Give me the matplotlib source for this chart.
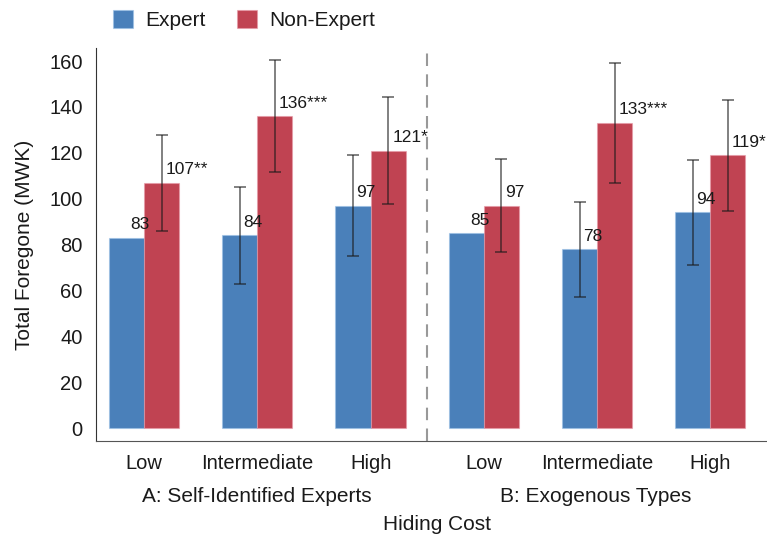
import numpy as np
import matplotlib
matplotlib.use("Agg")
import matplotlib.pyplot as plt

plt.rcParams['font.family'] = ['Liberation Sans', 'DejaVu Sans']

# data
cost_levels = ["Low", "Intermediate", "High", "Low", "Intermediate", "High"]
panels = ["A: Self-Identified Experts", "B: Exogenous Types"]
expert = [83, 84, 97, 85, 78, 94]
non_expert = [107, 136, 121, 97, 133, 119]
expert_err = [np.nan, 21, 22, np.nan, 20.7, 22.7]
non_expert_err = [21, 24.5, 23.4, 20.4, 26, 24.2]
expert_lbl = ["83", "84", "97", "85", "78", "94"]
non_expert_lbl = ["107**", "136***", "121*", "97", "133***", "119*"]

BLUE = "#4a80ba"
RED = "#c04352"
TXT = "#1a1a1a"
FS = 15

fig = plt.figure(figsize=(7.67, 5.40), dpi=100)
ax = fig.add_axes([0.1258, 0.1833, 1 - 0.1258, 0.911 - 0.1833])

x = np.arange(len(cost_levels))
w = 0.31
ax.bar(x - w / 2, expert, w, color=BLUE, edgecolor=(0.6, 0.75, 0.9, 0.6), linewidth=0.8, label="Expert")
ax.bar(x + w / 2, non_expert, w, color=RED, edgecolor=(0.9, 0.6, 0.65, 0.6), linewidth=0.8, label="Non-Expert")

ee = np.array(expert_err, dtype=float)
ok = ~np.isnan(ee)
ax.errorbar((x - w / 2)[ok], np.array(expert)[ok], yerr=ee[ok], fmt="none",
            ecolor=(0.1, 0.1, 0.1, 0.7), elinewidth=1.1, capsize=4, capthick=1.1)
ax.errorbar(x + w / 2, non_expert, yerr=non_expert_err, fmt="none",
            ecolor=(0.1, 0.1, 0.1, 0.7), elinewidth=1.1, capsize=4, capthick=1.1)

for xi, v, s in zip(x - w / 2, expert, expert_lbl):
    ax.annotate(s, (xi, v), xytext=(2.5, 4), textcoords="offset points",
                ha="left", va="bottom", fontsize=12.5, color=TXT)
for xi, v, s in zip(x + w / 2, non_expert, non_expert_lbl):
    ax.annotate(s, (xi, v), xytext=(3, 4), textcoords="offset points",
                ha="left", va="bottom", fontsize=12.5, color=TXT)

ax.axvline(2.5, color="#999999", linestyle=(0, (6, 4)), linewidth=1.5)

ax.set_xlim(-0.42, 5.5)
ax.set_ylim(-5.67, 165.7)
ax.set_yticks(range(0, 161, 20))
ax.set_xticks(x)
ax.set_xticklabels(cost_levels)
ax.tick_params(axis="both", length=0, labelsize=FS - 0.5, colors=TXT)
ax.tick_params(axis="x", pad=9)
ax.tick_params(axis="y", pad=10)
for s in ["top", "right"]:
    ax.spines[s].set_visible(False)
ax.spines["left"].set_color("#333333")
ax.spines["bottom"].set_color("#555555")
ax.set_ylabel("Total Foregone (MWK)", fontsize=FS, color=TXT, labelpad=11)

fig.text(257 / 767, 1 - 497 / 540, panels[0], ha="center", va="center", fontsize=FS, color=TXT)
fig.text(596 / 767, 1 - 497 / 540, panels[1], ha="center", va="center", fontsize=FS, color=TXT)
fig.text(437 / 767, 1 - 525 / 540, "Hiding Cost", ha="center", va="center", fontsize=FS, color=TXT)

fig.legend(loc="center", bbox_to_anchor=(244 / 767, 1 - 20 / 540), ncol=2, frameon=False,
           fontsize=FS, handlelength=0.95, handleheight=0.95, columnspacing=1.5, handletextpad=0.6,
           labelcolor=TXT)

fig.savefig("out.png", dpi=100)
